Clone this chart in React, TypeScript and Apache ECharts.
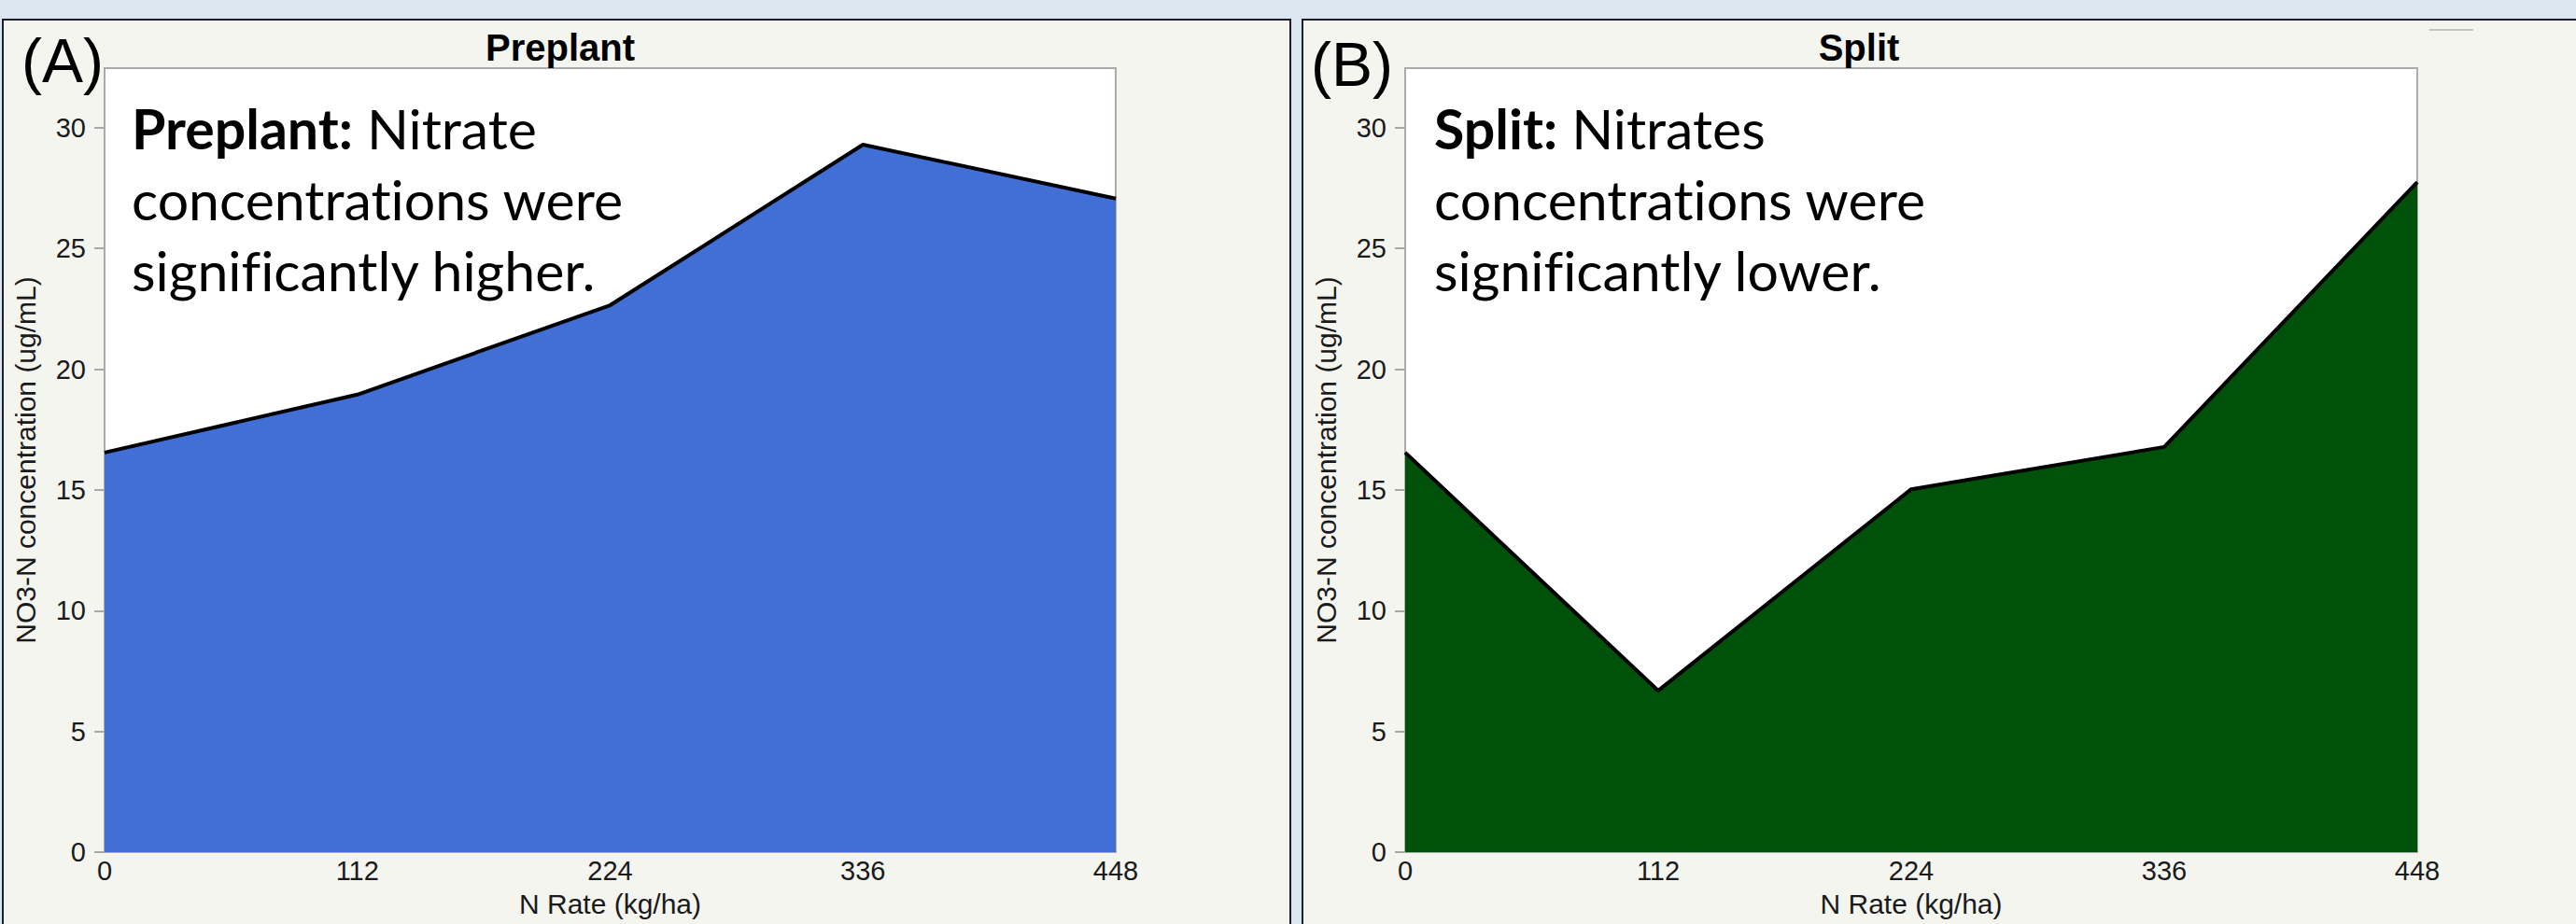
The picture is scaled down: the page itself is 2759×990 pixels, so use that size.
import React, { useEffect, useRef } from "react";
import * as echarts from "echarts";

const nRate = [0, 112, 224, 336, 448];
const preplantValues = [16.55, 18.95, 22.65, 29.3, 27.07];
const splitValues = [16.55, 6.69, 15.03, 16.78, 27.75];
const yTicks = [0, 5, 10, 15, 20, 25, 30];
const panelTitles = ["Preplant", "Split"];
const panelLetters = ["(A)", "(B)"];
const notesBold = ["Preplant:", "Split:"];
const notesRest = [
  " Nitrate\nconcentrations were\nsignificantly higher.",
  " Nitrates\nconcentrations were\nsignificantly lower.",
];
const xName = "N Rate (kg/ha)";
const yName = "NO3-N concentration (ug/mL)";

const SANS = "Liberation Sans, Arial, sans-serif";
const NOTE_FONT = "Lato, sans-serif";

export default function App() {
  const ref = useRef<HTMLDivElement>(null);

  useEffect(() => {
    if (!ref.current) return;
    const chart = echarts.init(ref.current, undefined, { renderer: "svg" });

    const grids = [
      { left: 112, top: 73, width: 1083, height: 840 },
      { left: 1505, top: 73, width: 1084, height: 840 },
    ];

    const xAxes = grids.map((_, i) => ({
      type: "value",
      gridIndex: i,
      min: 0,
      max: 448,
      interval: 112,
      axisLine: { show: false },
      axisTick: { show: false },
      splitLine: { show: false },
      axisLabel: {
        color: "#1a1a1a",
        fontFamily: SANS,
        fontSize: 29,
        margin: 5,
      },
      name: xName,
      nameLocation: "middle",
      nameGap: 40,
      nameTextStyle: { color: "#1a1a1a", fontFamily: SANS, fontSize: 30 },
    }));

    const yAxes = grids.map((_, i) => ({
      type: "value",
      gridIndex: i,
      min: 0,
      max: 32.47,
      interval: 5,
      axisLine: { show: false },
      axisTick: {
        show: true,
        length: 11,
        customValues: yTicks,
        lineStyle: { color: "#a8a8a8", width: 2 },
      },
      splitLine: { show: false },
      axisLabel: {
        color: "#1a1a1a",
        fontFamily: SANS,
        fontSize: 29,
        margin: 20,
        customValues: yTicks,
      },
      name: yName,
      nameLocation: "middle",
      nameGap: 70,
      nameTextStyle: { color: "#1a1a1a", fontFamily: SANS, fontSize: 30 },
    }));

    const seriesData = [preplantValues, splitValues];
    const fills = ["#416fd6", "#00520a"];

    const series = seriesData.map((vals, i) => ({
      type: "line",
      xAxisIndex: i,
      yAxisIndex: i,
      data: nRate.map((x, k) => [x, vals[k]]),
      symbol: "none",
      lineStyle: { color: "#000", width: 4 },
      areaStyle: { color: fills[i], opacity: 1 },
      z: 3,
    }));

    const titleX = [600, 1991];
    const letterPos = [
      [67, 65],
      [1448, 69],
    ];
    const noteX = [141, 1536];

    const graphic: any[] = [
      {
        type: "rect",
        z: -10,
        shape: { x: 3, y: 21, width: 1379, height: 1000 },
        style: { fill: "#f5f5f0", stroke: "#1c1f2a", lineWidth: 2 },
      },
      {
        type: "rect",
        z: -10,
        shape: { x: 1395, y: 21, width: 1400, height: 1000 },
        style: { fill: "#f5f5f0", stroke: "#1c1f2a", lineWidth: 2 },
      },
      {
        type: "line",
        z: 5,
        shape: { x1: 2602, y1: 32, x2: 2649, y2: 32 },
        style: { stroke: "#b5b5b5", lineWidth: 1.5 },
      },
    ];

    for (let i = 0; i < 2; i++) {
      graphic.push({
        type: "text",
        z: 50,
        x: titleX[i],
        y: 50.5,
        style: {
          text: panelTitles[i],
          textAlign: "center",
          textVerticalAlign: "middle",
          fontFamily: SANS,
          fontWeight: "bold",
          fontSize: 40,
          fill: "#000",
        },
      });
      graphic.push({
        type: "text",
        z: 50,
        x: letterPos[i][0],
        y: letterPos[i][1],
        style: {
          text: panelLetters[i],
          textAlign: "center",
          textVerticalAlign: "middle",
          fontFamily: SANS,
          fontSize: 66,
          fill: "#000",
        },
      });
      graphic.push({
        type: "text",
        z: 50,
        x: noteX[i],
        y: 99,
        style: {
          text: "{b|" + notesBold[i] + "}" + notesRest[i],
          textAlign: "left",
          textVerticalAlign: "top",
          fontFamily: NOTE_FONT,
          fontSize: 59,
          lineHeight: 76,
          fill: "#000",
          rich: {
            b: {
              fontFamily: NOTE_FONT,
              fontWeight: "bold",
              fontSize: 59,
              lineHeight: 76,
              fill: "#000",
            },
          },
        },
      });
    }

    chart.setOption({
      animation: false,
      backgroundColor: "#dce6f1",
      grid: grids.map((g) => ({
        ...g,
        show: true,
        backgroundColor: "#ffffff",
        borderColor: "#ababab",
        borderWidth: 2,
      })),
      xAxis: xAxes,
      yAxis: yAxes,
      series,
      graphic,
    });

    return () => chart.dispose();
  }, []);

  return (
    <>
      <style>{"svg text, svg tspan { font-variant-ligatures: none !important; font-feature-settings: 'liga' 0, 'clig' 0, 'dlig' 0 !important; }"}</style>
      <div
        ref={ref}
        style={{ position: "absolute", left: 0, top: 0, width: 2759, height: 990 }}
      />
    </>
  );
}
